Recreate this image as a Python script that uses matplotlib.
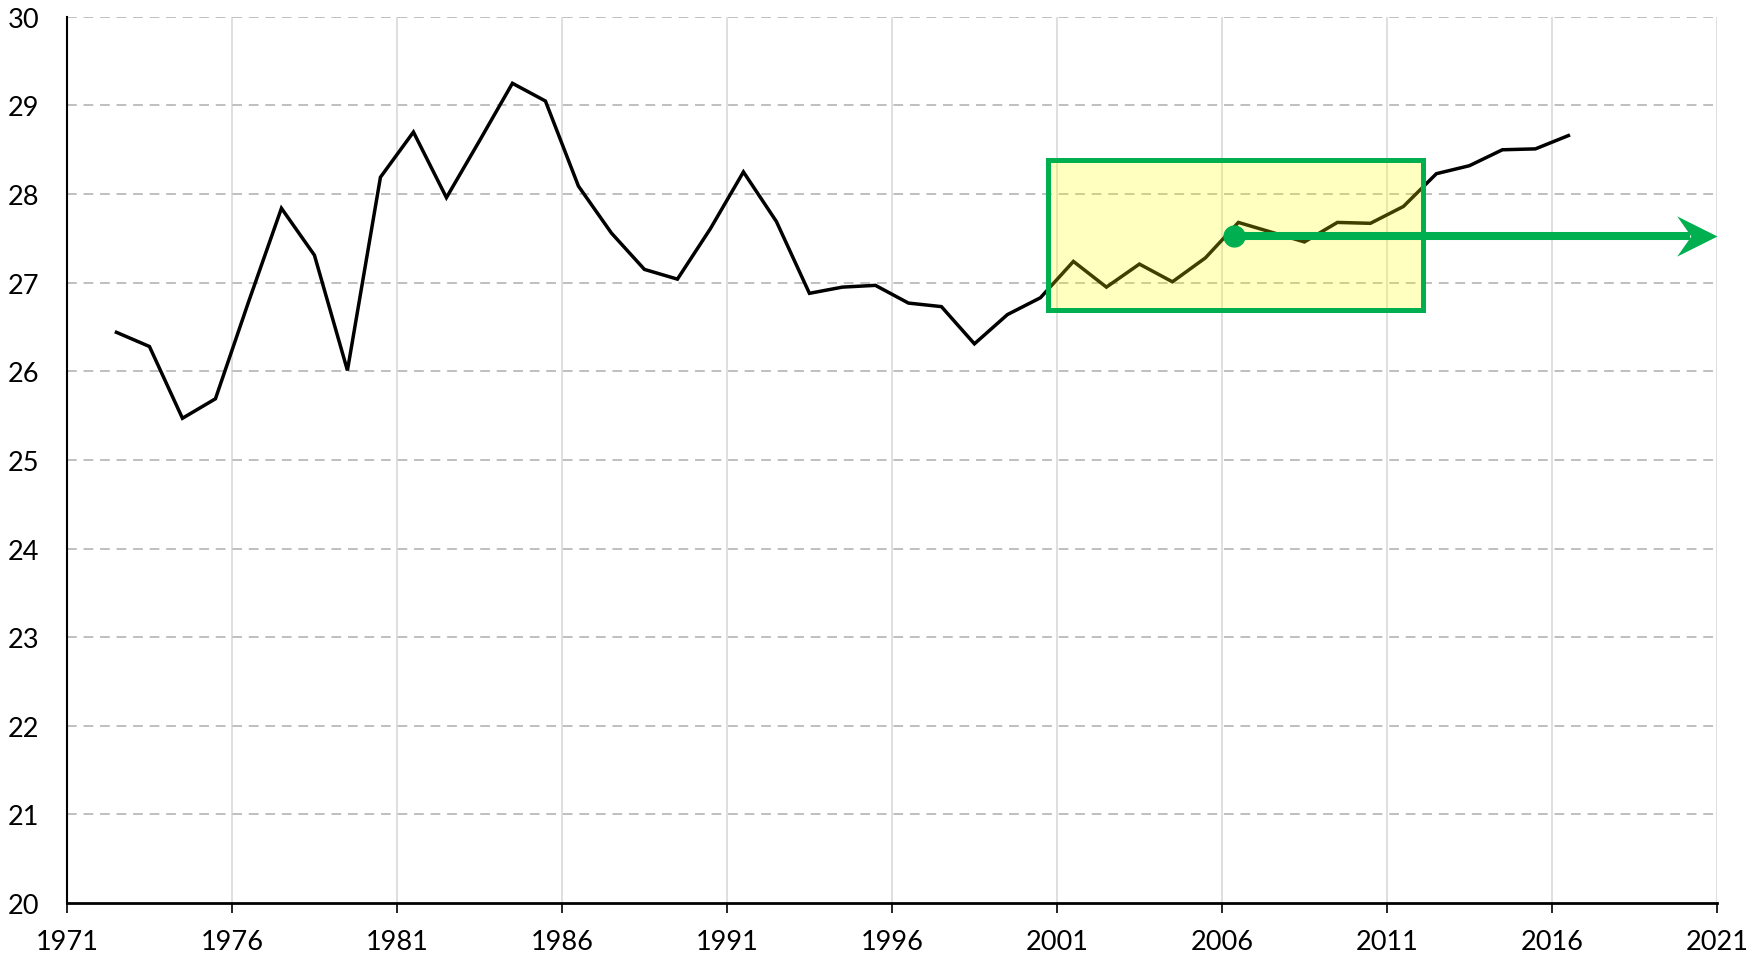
import matplotlib
matplotlib.use("Agg")
import matplotlib.pyplot as plt
from matplotlib.path import Path
from matplotlib.patches import Rectangle

plt.rcParams['font.family'] = ['Lato', 'DejaVu Sans']

years = list(range(1972, 2017))
values = [26.44, 26.28, 25.47, 25.69, 26.78, 27.84, 27.31, 26.01, 28.19, 28.70,
          27.96, 28.60, 29.25, 29.05, 28.09, 27.56, 27.15, 27.04, 27.61, 28.25,
          27.69, 26.88, 26.95, 26.97, 26.77, 26.73, 26.31, 26.64, 26.83, 27.24,
          26.95, 27.21, 27.01, 27.28, 27.68, 27.57, 27.46, 27.68, 27.67, 27.86,
          28.23, 28.32, 28.50, 28.51, 28.66]

x_ticks = list(range(1971, 2022, 5))
y_ticks = list(range(20, 31))

# highlighted window and trend arrow
box_x = (2000.73, 2012.1)
box_y = (26.69, 28.39)
arrow_start = (2006.38, 27.53)
arrow_end_x = 2021.0

green = "#00B050"

fig = plt.figure(figsize=(17.48, 9.54), dpi=100)
ax = fig.add_axes([0.0383, 0.0524, 0.9439, 0.9289])

ax.plot([y + 0.5 for y in years], values, color="black", lw=2.5, zorder=3,
        solid_joinstyle="miter")

ax.add_patch(Rectangle((box_x[0], box_y[0]), box_x[1] - box_x[0], box_y[1] - box_y[0],
                       facecolor=(1, 1, 0, 0.25), edgecolor=green, lw=3.6, zorder=4))

head = Path([(0, 0), (-2, 1), (-1.3, 0), (-2, -1), (0, 0)],
            [Path.MOVETO, Path.LINETO, Path.LINETO, Path.LINETO, Path.CLOSEPOLY])
ax.plot([arrow_start[0], arrow_end_x - 0.8], [arrow_start[1]] * 2, color=green,
        lw=5.8, solid_capstyle="butt", zorder=5)
ax.plot([arrow_end_x], [arrow_start[1]], marker=head, ms=58, color=green,
        mec="none", zorder=6, clip_on=False)
ax.plot([arrow_start[0]], [arrow_start[1]], "o", ms=15, color=green, zorder=6)

ax.set_xlim(1971, 2021)
ax.set_ylim(20, 30)
ax.set_xticks(x_ticks)
ax.set_yticks(y_ticks)

for y in y_ticks[1:]:
    ax.axhline(y, color="#BFBFBF", lw=1.4, ls=(0, (5, 3.5)), zorder=1)
for x in x_ticks[1:]:
    ax.axvline(x, color="#D9D9D9", lw=1.2, zorder=0.5)

for s in ["top", "right"]:
    ax.spines[s].set_visible(False)
ax.spines["left"].set_linewidth(1.5)
ax.spines["bottom"].set_linewidth(2)

ax.tick_params(axis="y", length=0, pad=20, labelsize=19.5)
ax.tick_params(axis="x", length=7, width=1.2, pad=12, labelsize=19.5)

fig.savefig("out.png", dpi=100)
